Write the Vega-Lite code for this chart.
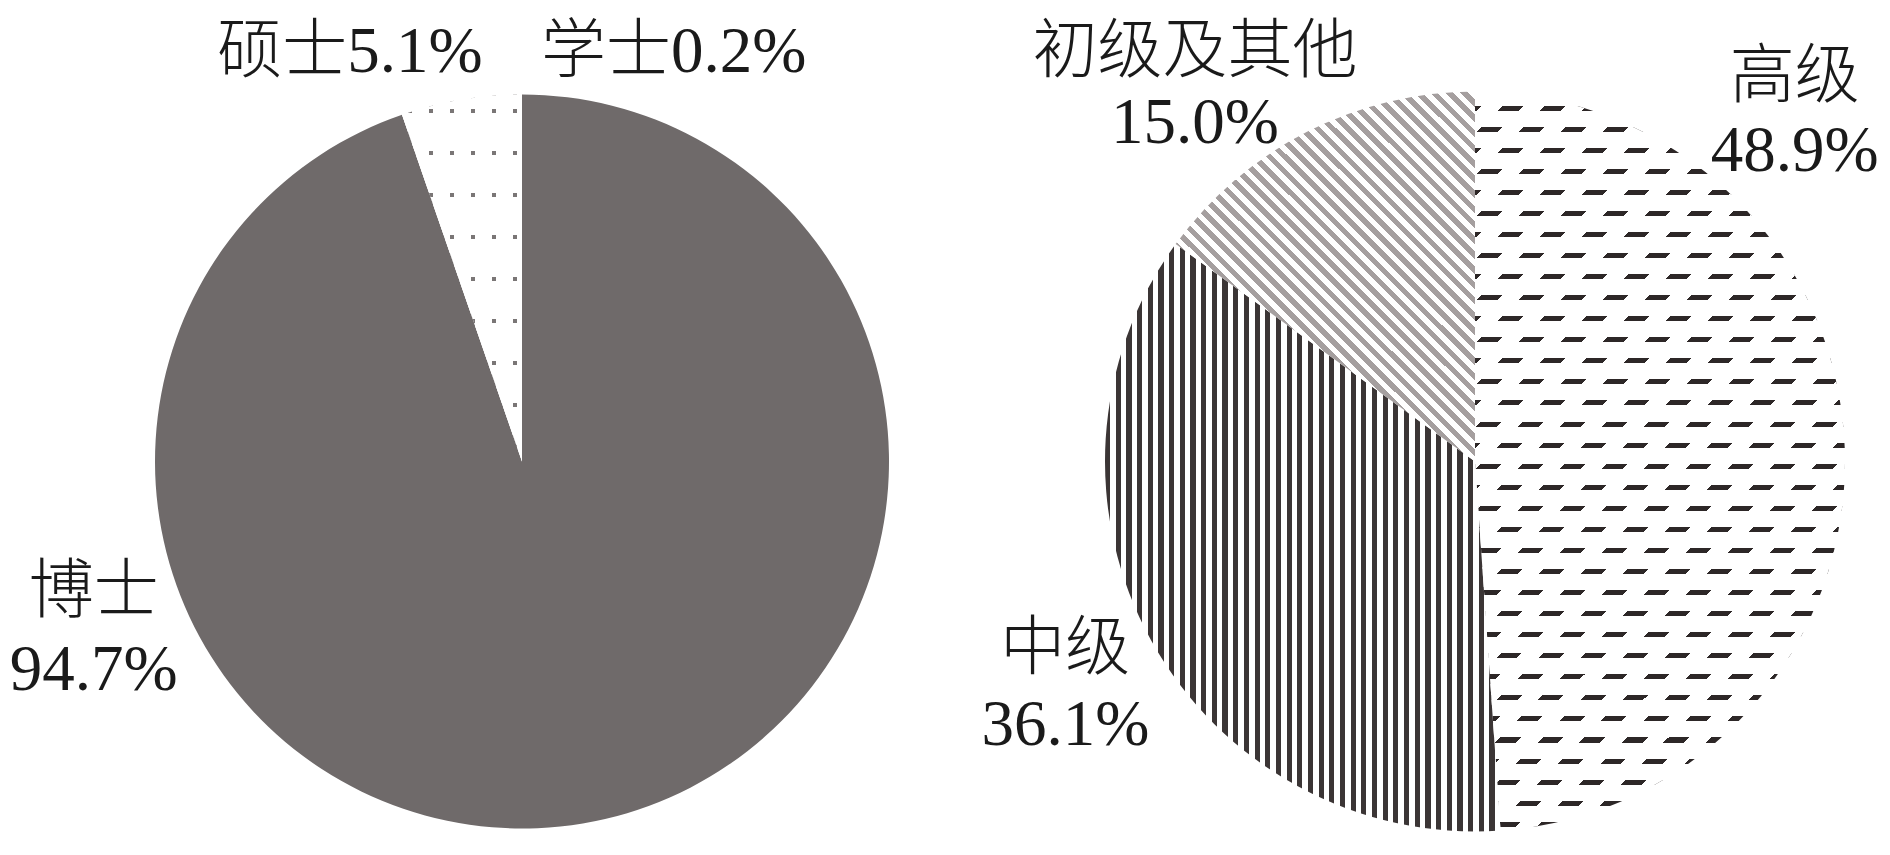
{
"$schema": "https://vega.github.io/schema/vega-lite/v6.json",
"autosize": {"type": "pad"},
"padding": {"left": 0, "right": 0, "top": 19.5, "bottom": 0},
"background": "white",
"bounds": "flush",
"spacing": 16,
"config": {
  "view": {"stroke": null},
  "text": {"font": "Liberation Serif, Noto Sans CJK SC", "fontSize": 65, "fontWeight": 300, "color": "#1a1a1a", "align": "center", "baseline": "middle", "lineBreak": "\n"}
},
"datasets": {
  "degree": [
    {"category": "博士", "share": 94.7, "seq": 1, "label": "博士\n94.7%"},
    {"category": "硕士", "share": 5.1, "seq": 2, "label": "硕士5.1%"},
    {"category": "学士", "share": 0.2, "seq": 3, "label": "学士0.2%"}
  ],
  "title": [
    {"category": "高级", "share": 48.9, "seq": 1, "label": "高级\n48.9%"},
    {"category": "中级", "share": 36.1, "seq": 2, "label": "中级\n36.1%"},
    {"category": "初级及其他", "share": 15.0, "seq": 3, "label": "初级及其他\n15.0%"}
  ]
},
"hconcat": [
  {
    "width": 1044, "height": 786,
    "data": {"name": "degree"},
    "encoding": {
      "theta": {"field": "share", "type": "quantitative", "stack": true},
      "order": {"field": "seq", "type": "quantitative"},
      "detail": {"field": "category", "type": "nominal"}
    },
    "layer": [
      {"mark": {"type": "arc", "outerRadius": 367},
       "encoding": {"color": {"condition": [
         {"test": "datum.category === '博士'", "value": "#6f6a6a"},
         {"test": "datum.category === '硕士'", "value": {"gradient": "linear", "x1": 0, "y1": 0, "x2": 1, "y2": 0, "stops": [
{"offset":0.05,"color":"#fff"},{"offset":0.05,"color":"#7a7676"},{"offset":0.083,"color":"#7a7676"},{"offset":0.083,"color":"#fff"},
{"offset":0.225,"color":"#fff"},{"offset":0.225,"color":"#7a7676"},{"offset":0.258,"color":"#7a7676"},{"offset":0.258,"color":"#fff"},
{"offset":0.4,"color":"#fff"},{"offset":0.4,"color":"#7a7676"},{"offset":0.433,"color":"#7a7676"},{"offset":0.433,"color":"#fff"},
{"offset":0.575,"color":"#fff"},{"offset":0.575,"color":"#7a7676"},{"offset":0.608,"color":"#7a7676"},{"offset":0.608,"color":"#fff"},
{"offset":0.75,"color":"#fff"},{"offset":0.75,"color":"#7a7676"},{"offset":0.783,"color":"#7a7676"},{"offset":0.783,"color":"#fff"},
{"offset":0.925,"color":"#fff"},{"offset":0.925,"color":"#7a7676"},{"offset":0.958,"color":"#7a7676"},{"offset":0.958,"color":"#fff"}
         ]}}
       ], "value": "#ffffff"}}},
      {"mark": {"type": "arc", "outerRadius": 367},
       "encoding": {"color": {"condition": {"test": "datum.category === '硕士'", "value": {"gradient": "linear", "x1": 0, "y1": 0, "x2": 0, "y2": 1, "stops": [
{"offset":0.04,"color":"#fff"},{"offset":0.04,"color":"rgba(255,255,255,0)"},{"offset":0.0509,"color":"rgba(255,255,255,0)"},{"offset":0.0509,"color":"#fff"},
{"offset":0.1544,"color":"#fff"},{"offset":0.1544,"color":"rgba(255,255,255,0)"},{"offset":0.1653,"color":"rgba(255,255,255,0)"},{"offset":0.1653,"color":"#fff"},
{"offset":0.2688,"color":"#fff"},{"offset":0.2688,"color":"rgba(255,255,255,0)"},{"offset":0.2797,"color":"rgba(255,255,255,0)"},{"offset":0.2797,"color":"#fff"},
{"offset":0.3832,"color":"#fff"},{"offset":0.3832,"color":"rgba(255,255,255,0)"},{"offset":0.3941,"color":"rgba(255,255,255,0)"},{"offset":0.3941,"color":"#fff"},
{"offset":0.4976,"color":"#fff"},{"offset":0.4976,"color":"rgba(255,255,255,0)"},{"offset":0.5085,"color":"rgba(255,255,255,0)"},{"offset":0.5085,"color":"#fff"},
{"offset":0.612,"color":"#fff"},{"offset":0.612,"color":"rgba(255,255,255,0)"},{"offset":0.6229,"color":"rgba(255,255,255,0)"},{"offset":0.6229,"color":"#fff"},
{"offset":0.7264,"color":"#fff"},{"offset":0.7264,"color":"rgba(255,255,255,0)"},{"offset":0.7373,"color":"rgba(255,255,255,0)"},{"offset":0.7373,"color":"#fff"},
{"offset":0.8408,"color":"#fff"},{"offset":0.8408,"color":"rgba(255,255,255,0)"},{"offset":0.8517,"color":"rgba(255,255,255,0)"},{"offset":0.8517,"color":"#fff"},
{"offset":0.9552,"color":"#fff"},{"offset":0.9552,"color":"rgba(255,255,255,0)"},{"offset":0.9661,"color":"rgba(255,255,255,0)"},{"offset":0.9661,"color":"#fff"}
       ]}}, "value": "transparent"}}},
      {"mark": {"type": "text", "dx": -489, "dy": -231, "lineHeight": 78},
       "encoding": {"radius": {"value": {"expr": "datum.category === '博士' ? 367 : 0"}},
                    "text": {"condition": {"test": "datum.category === '博士'", "field": "label"}, "value": ""}}},
      {"mark": {"type": "text", "dx": -109, "dy": -48},
       "encoding": {"radius": {"value": {"expr": "datum.category === '硕士' ? 367 : 0"}},
                    "text": {"condition": {"test": "datum.category === '硕士'", "field": "label"}, "value": ""}}},
      {"mark": {"type": "text", "dx": 154, "dy": -43},
       "encoding": {"radius": {"value": {"expr": "datum.category === '学士' ? 367 : 0"}},
                    "text": {"condition": {"test": "datum.category === '学士'", "field": "label"}, "value": ""}}}
    ]
  },
  {
    "width": 830, "height": 786,
    "data": {"name": "title"},
    "encoding": {
      "theta": {"field": "share", "type": "quantitative", "stack": true},
      "order": {"field": "seq", "type": "quantitative"},
      "detail": {"field": "category", "type": "nominal"}
    },
    "layer": [
      {"mark": {"type": "arc", "outerRadius": 370},
       "encoding": {"color": {"condition": [
         {"test": "datum.category === '高级'", "value": {"gradient": "linear", "x1": 0, "y1": 0, "x2": 0, "y2": 1, "stops": [
{"offset":0.019,"color":"#fff"},{"offset":0.019,"color":"#2d2727"},{"offset":0.0258,"color":"#2d2727"},{"offset":0.0258,"color":"#fff"},
{"offset":0.0475,"color":"#fff"},{"offset":0.0475,"color":"#2d2727"},{"offset":0.0543,"color":"#2d2727"},{"offset":0.0543,"color":"#fff"},
{"offset":0.076,"color":"#fff"},{"offset":0.076,"color":"#2d2727"},{"offset":0.0828,"color":"#2d2727"},{"offset":0.0828,"color":"#fff"},
{"offset":0.1045,"color":"#fff"},{"offset":0.1045,"color":"#2d2727"},{"offset":0.1113,"color":"#2d2727"},{"offset":0.1113,"color":"#fff"},
{"offset":0.133,"color":"#fff"},{"offset":0.133,"color":"#2d2727"},{"offset":0.1398,"color":"#2d2727"},{"offset":0.1398,"color":"#fff"},
{"offset":0.1615,"color":"#fff"},{"offset":0.1615,"color":"#2d2727"},{"offset":0.1683,"color":"#2d2727"},{"offset":0.1683,"color":"#fff"},
{"offset":0.19,"color":"#fff"},{"offset":0.19,"color":"#2d2727"},{"offset":0.1968,"color":"#2d2727"},{"offset":0.1968,"color":"#fff"},
{"offset":0.2185,"color":"#fff"},{"offset":0.2185,"color":"#2d2727"},{"offset":0.2253,"color":"#2d2727"},{"offset":0.2253,"color":"#fff"},
{"offset":0.247,"color":"#fff"},{"offset":0.247,"color":"#2d2727"},{"offset":0.2538,"color":"#2d2727"},{"offset":0.2538,"color":"#fff"},
{"offset":0.2755,"color":"#fff"},{"offset":0.2755,"color":"#2d2727"},{"offset":0.2823,"color":"#2d2727"},{"offset":0.2823,"color":"#fff"},
{"offset":0.304,"color":"#fff"},{"offset":0.304,"color":"#2d2727"},{"offset":0.3108,"color":"#2d2727"},{"offset":0.3108,"color":"#fff"},
{"offset":0.3325,"color":"#fff"},{"offset":0.3325,"color":"#2d2727"},{"offset":0.3393,"color":"#2d2727"},{"offset":0.3393,"color":"#fff"},
{"offset":0.361,"color":"#fff"},{"offset":0.361,"color":"#2d2727"},{"offset":0.3678,"color":"#2d2727"},{"offset":0.3678,"color":"#fff"},
{"offset":0.3895,"color":"#fff"},{"offset":0.3895,"color":"#2d2727"},{"offset":0.3963,"color":"#2d2727"},{"offset":0.3963,"color":"#fff"},
{"offset":0.418,"color":"#fff"},{"offset":0.418,"color":"#2d2727"},{"offset":0.4248,"color":"#2d2727"},{"offset":0.4248,"color":"#fff"},
{"offset":0.4465,"color":"#fff"},{"offset":0.4465,"color":"#2d2727"},{"offset":0.4533,"color":"#2d2727"},{"offset":0.4533,"color":"#fff"},
{"offset":0.475,"color":"#fff"},{"offset":0.475,"color":"#2d2727"},{"offset":0.4818,"color":"#2d2727"},{"offset":0.4818,"color":"#fff"},
{"offset":0.5035,"color":"#fff"},{"offset":0.5035,"color":"#2d2727"},{"offset":0.5103,"color":"#2d2727"},{"offset":0.5103,"color":"#fff"},
{"offset":0.532,"color":"#fff"},{"offset":0.532,"color":"#2d2727"},{"offset":0.5388,"color":"#2d2727"},{"offset":0.5388,"color":"#fff"},
{"offset":0.5605,"color":"#fff"},{"offset":0.5605,"color":"#2d2727"},{"offset":0.5673,"color":"#2d2727"},{"offset":0.5673,"color":"#fff"},
{"offset":0.589,"color":"#fff"},{"offset":0.589,"color":"#2d2727"},{"offset":0.5958,"color":"#2d2727"},{"offset":0.5958,"color":"#fff"},
{"offset":0.6175,"color":"#fff"},{"offset":0.6175,"color":"#2d2727"},{"offset":0.6243,"color":"#2d2727"},{"offset":0.6243,"color":"#fff"},
{"offset":0.646,"color":"#fff"},{"offset":0.646,"color":"#2d2727"},{"offset":0.6528,"color":"#2d2727"},{"offset":0.6528,"color":"#fff"},
{"offset":0.6745,"color":"#fff"},{"offset":0.6745,"color":"#2d2727"},{"offset":0.6813,"color":"#2d2727"},{"offset":0.6813,"color":"#fff"},
{"offset":0.703,"color":"#fff"},{"offset":0.703,"color":"#2d2727"},{"offset":0.7098,"color":"#2d2727"},{"offset":0.7098,"color":"#fff"},
{"offset":0.7315,"color":"#fff"},{"offset":0.7315,"color":"#2d2727"},{"offset":0.7383,"color":"#2d2727"},{"offset":0.7383,"color":"#fff"},
{"offset":0.76,"color":"#fff"},{"offset":0.76,"color":"#2d2727"},{"offset":0.7668,"color":"#2d2727"},{"offset":0.7668,"color":"#fff"},
{"offset":0.7885,"color":"#fff"},{"offset":0.7885,"color":"#2d2727"},{"offset":0.7953,"color":"#2d2727"},{"offset":0.7953,"color":"#fff"},
{"offset":0.817,"color":"#fff"},{"offset":0.817,"color":"#2d2727"},{"offset":0.8238,"color":"#2d2727"},{"offset":0.8238,"color":"#fff"},
{"offset":0.8455,"color":"#fff"},{"offset":0.8455,"color":"#2d2727"},{"offset":0.8523,"color":"#2d2727"},{"offset":0.8523,"color":"#fff"},
{"offset":0.874,"color":"#fff"},{"offset":0.874,"color":"#2d2727"},{"offset":0.8808,"color":"#2d2727"},{"offset":0.8808,"color":"#fff"},
{"offset":0.9025,"color":"#fff"},{"offset":0.9025,"color":"#2d2727"},{"offset":0.9093,"color":"#2d2727"},{"offset":0.9093,"color":"#fff"},
{"offset":0.931,"color":"#fff"},{"offset":0.931,"color":"#2d2727"},{"offset":0.9378,"color":"#2d2727"},{"offset":0.9378,"color":"#fff"},
{"offset":0.9595,"color":"#fff"},{"offset":0.9595,"color":"#2d2727"},{"offset":0.9663,"color":"#2d2727"},{"offset":0.9663,"color":"#fff"},
{"offset":0.988,"color":"#fff"},{"offset":0.988,"color":"#2d2727"},{"offset":0.9948,"color":"#2d2727"},{"offset":0.9948,"color":"#fff"}
         ]}},
         {"test": "datum.category === '中级'", "value": {"gradient": "linear", "x1": 0, "y1": 0, "x2": 1, "y2": 0, "stops": [
{"offset":0,"color":"#3b3535"},{"offset":0.013,"color":"#3b3535"},{"offset":0.013,"color":"#fff"},{"offset":0.027,"color":"#fff"},
{"offset":0.027,"color":"#3b3535"},{"offset":0.04,"color":"#3b3535"},{"offset":0.04,"color":"#fff"},{"offset":0.054,"color":"#fff"},
{"offset":0.054,"color":"#3b3535"},{"offset":0.067,"color":"#3b3535"},{"offset":0.067,"color":"#fff"},{"offset":0.081,"color":"#fff"},
{"offset":0.081,"color":"#3b3535"},{"offset":0.094,"color":"#3b3535"},{"offset":0.094,"color":"#fff"},{"offset":0.108,"color":"#fff"},
{"offset":0.108,"color":"#3b3535"},{"offset":0.121,"color":"#3b3535"},{"offset":0.121,"color":"#fff"},{"offset":0.135,"color":"#fff"},
{"offset":0.135,"color":"#3b3535"},{"offset":0.148,"color":"#3b3535"},{"offset":0.148,"color":"#fff"},{"offset":0.162,"color":"#fff"},
{"offset":0.162,"color":"#3b3535"},{"offset":0.175,"color":"#3b3535"},{"offset":0.175,"color":"#fff"},{"offset":0.189,"color":"#fff"},
{"offset":0.189,"color":"#3b3535"},{"offset":0.202,"color":"#3b3535"},{"offset":0.202,"color":"#fff"},{"offset":0.216,"color":"#fff"},
{"offset":0.216,"color":"#3b3535"},{"offset":0.229,"color":"#3b3535"},{"offset":0.229,"color":"#fff"},{"offset":0.243,"color":"#fff"},
{"offset":0.243,"color":"#3b3535"},{"offset":0.256,"color":"#3b3535"},{"offset":0.256,"color":"#fff"},{"offset":0.27,"color":"#fff"},
{"offset":0.27,"color":"#3b3535"},{"offset":0.283,"color":"#3b3535"},{"offset":0.283,"color":"#fff"},{"offset":0.297,"color":"#fff"},
{"offset":0.297,"color":"#3b3535"},{"offset":0.31,"color":"#3b3535"},{"offset":0.31,"color":"#fff"},{"offset":0.324,"color":"#fff"},
{"offset":0.324,"color":"#3b3535"},{"offset":0.337,"color":"#3b3535"},{"offset":0.337,"color":"#fff"},{"offset":0.351,"color":"#fff"},
{"offset":0.351,"color":"#3b3535"},{"offset":0.364,"color":"#3b3535"},{"offset":0.364,"color":"#fff"},{"offset":0.378,"color":"#fff"},
{"offset":0.378,"color":"#3b3535"},{"offset":0.391,"color":"#3b3535"},{"offset":0.391,"color":"#fff"},{"offset":0.405,"color":"#fff"},
{"offset":0.405,"color":"#3b3535"},{"offset":0.418,"color":"#3b3535"},{"offset":0.418,"color":"#fff"},{"offset":0.432,"color":"#fff"},
{"offset":0.432,"color":"#3b3535"},{"offset":0.445,"color":"#3b3535"},{"offset":0.445,"color":"#fff"},{"offset":0.459,"color":"#fff"},
{"offset":0.459,"color":"#3b3535"},{"offset":0.472,"color":"#3b3535"},{"offset":0.472,"color":"#fff"},{"offset":0.486,"color":"#fff"},
{"offset":0.486,"color":"#3b3535"},{"offset":0.499,"color":"#3b3535"},{"offset":0.499,"color":"#fff"},{"offset":0.513,"color":"#fff"},
{"offset":0.513,"color":"#3b3535"},{"offset":0.526,"color":"#3b3535"},{"offset":0.526,"color":"#fff"},{"offset":0.54,"color":"#fff"},
{"offset":0.54,"color":"#3b3535"},{"offset":0.553,"color":"#3b3535"},{"offset":0.553,"color":"#fff"},{"offset":0.567,"color":"#fff"},
{"offset":0.567,"color":"#3b3535"},{"offset":0.58,"color":"#3b3535"},{"offset":0.58,"color":"#fff"},{"offset":0.594,"color":"#fff"},
{"offset":0.594,"color":"#3b3535"},{"offset":0.607,"color":"#3b3535"},{"offset":0.607,"color":"#fff"},{"offset":0.621,"color":"#fff"},
{"offset":0.621,"color":"#3b3535"},{"offset":0.634,"color":"#3b3535"},{"offset":0.634,"color":"#fff"},{"offset":0.648,"color":"#fff"},
{"offset":0.648,"color":"#3b3535"},{"offset":0.661,"color":"#3b3535"},{"offset":0.661,"color":"#fff"},{"offset":0.675,"color":"#fff"},
{"offset":0.675,"color":"#3b3535"},{"offset":0.688,"color":"#3b3535"},{"offset":0.688,"color":"#fff"},{"offset":0.702,"color":"#fff"},
{"offset":0.702,"color":"#3b3535"},{"offset":0.715,"color":"#3b3535"},{"offset":0.715,"color":"#fff"},{"offset":0.729,"color":"#fff"},
{"offset":0.729,"color":"#3b3535"},{"offset":0.742,"color":"#3b3535"},{"offset":0.742,"color":"#fff"},{"offset":0.756,"color":"#fff"},
{"offset":0.756,"color":"#3b3535"},{"offset":0.769,"color":"#3b3535"},{"offset":0.769,"color":"#fff"},{"offset":0.783,"color":"#fff"},
{"offset":0.783,"color":"#3b3535"},{"offset":0.796,"color":"#3b3535"},{"offset":0.796,"color":"#fff"},{"offset":0.81,"color":"#fff"},
{"offset":0.81,"color":"#3b3535"},{"offset":0.823,"color":"#3b3535"},{"offset":0.823,"color":"#fff"},{"offset":0.837,"color":"#fff"},
{"offset":0.837,"color":"#3b3535"},{"offset":0.85,"color":"#3b3535"},{"offset":0.85,"color":"#fff"},{"offset":0.864,"color":"#fff"},
{"offset":0.864,"color":"#3b3535"},{"offset":0.877,"color":"#3b3535"},{"offset":0.877,"color":"#fff"},{"offset":0.891,"color":"#fff"},
{"offset":0.891,"color":"#3b3535"},{"offset":0.904,"color":"#3b3535"},{"offset":0.904,"color":"#fff"},{"offset":0.918,"color":"#fff"},
{"offset":0.918,"color":"#3b3535"},{"offset":0.931,"color":"#3b3535"},{"offset":0.931,"color":"#fff"},{"offset":0.945,"color":"#fff"},
{"offset":0.945,"color":"#3b3535"},{"offset":0.958,"color":"#3b3535"},{"offset":0.958,"color":"#fff"},{"offset":0.972,"color":"#fff"},
{"offset":0.972,"color":"#3b3535"},{"offset":0.985,"color":"#3b3535"},{"offset":0.985,"color":"#fff"},{"offset":1,"color":"#fff"}
         ]}}
       ],
       "value": {"gradient": "linear", "x1": 0, "y1": 1, "x2": 0.884, "y2": -0.094, "stops": [
{"offset":0,"color":"#a59f9f"},{"offset":0.0114,"color":"#a59f9f"},{"offset":0.0114,"color":"#fff"},{"offset":0.0227,"color":"#fff"},
{"offset":0.0227,"color":"#a59f9f"},{"offset":0.0341,"color":"#a59f9f"},{"offset":0.0341,"color":"#fff"},{"offset":0.0454,"color":"#fff"},
{"offset":0.0454,"color":"#a59f9f"},{"offset":0.0568,"color":"#a59f9f"},{"offset":0.0568,"color":"#fff"},{"offset":0.0681,"color":"#fff"},
{"offset":0.0681,"color":"#a59f9f"},{"offset":0.0795,"color":"#a59f9f"},{"offset":0.0795,"color":"#fff"},{"offset":0.0908,"color":"#fff"},
{"offset":0.0908,"color":"#a59f9f"},{"offset":0.1022,"color":"#a59f9f"},{"offset":0.1022,"color":"#fff"},{"offset":0.1135,"color":"#fff"},
{"offset":0.1135,"color":"#a59f9f"},{"offset":0.1249,"color":"#a59f9f"},{"offset":0.1249,"color":"#fff"},{"offset":0.1362,"color":"#fff"},
{"offset":0.1362,"color":"#a59f9f"},{"offset":0.1476,"color":"#a59f9f"},{"offset":0.1476,"color":"#fff"},{"offset":0.1589,"color":"#fff"},
{"offset":0.1589,"color":"#a59f9f"},{"offset":0.1703,"color":"#a59f9f"},{"offset":0.1703,"color":"#fff"},{"offset":0.1816,"color":"#fff"},
{"offset":0.1816,"color":"#a59f9f"},{"offset":0.193,"color":"#a59f9f"},{"offset":0.193,"color":"#fff"},{"offset":0.2043,"color":"#fff"},
{"offset":0.2043,"color":"#a59f9f"},{"offset":0.2157,"color":"#a59f9f"},{"offset":0.2157,"color":"#fff"},{"offset":0.227,"color":"#fff"},
{"offset":0.227,"color":"#a59f9f"},{"offset":0.2384,"color":"#a59f9f"},{"offset":0.2384,"color":"#fff"},{"offset":0.2497,"color":"#fff"},
{"offset":0.2497,"color":"#a59f9f"},{"offset":0.2611,"color":"#a59f9f"},{"offset":0.2611,"color":"#fff"},{"offset":0.2724,"color":"#fff"},
{"offset":0.2724,"color":"#a59f9f"},{"offset":0.2838,"color":"#a59f9f"},{"offset":0.2838,"color":"#fff"},{"offset":0.2951,"color":"#fff"},
{"offset":0.2951,"color":"#a59f9f"},{"offset":0.3065,"color":"#a59f9f"},{"offset":0.3065,"color":"#fff"},{"offset":0.3178,"color":"#fff"},
{"offset":0.3178,"color":"#a59f9f"},{"offset":0.3292,"color":"#a59f9f"},{"offset":0.3292,"color":"#fff"},{"offset":0.3405,"color":"#fff"},
{"offset":0.3405,"color":"#a59f9f"},{"offset":0.3519,"color":"#a59f9f"},{"offset":0.3519,"color":"#fff"},{"offset":0.3632,"color":"#fff"},
{"offset":0.3632,"color":"#a59f9f"},{"offset":0.3746,"color":"#a59f9f"},{"offset":0.3746,"color":"#fff"},{"offset":0.3859,"color":"#fff"},
{"offset":0.3859,"color":"#a59f9f"},{"offset":0.3973,"color":"#a59f9f"},{"offset":0.3973,"color":"#fff"},{"offset":0.4086,"color":"#fff"},
{"offset":0.4086,"color":"#a59f9f"},{"offset":0.42,"color":"#a59f9f"},{"offset":0.42,"color":"#fff"},{"offset":0.4313,"color":"#fff"},
{"offset":0.4313,"color":"#a59f9f"},{"offset":0.4427,"color":"#a59f9f"},{"offset":0.4427,"color":"#fff"},{"offset":0.454,"color":"#fff"},
{"offset":0.454,"color":"#a59f9f"},{"offset":0.4654,"color":"#a59f9f"},{"offset":0.4654,"color":"#fff"},{"offset":0.4767,"color":"#fff"},
{"offset":0.4767,"color":"#a59f9f"},{"offset":0.4881,"color":"#a59f9f"},{"offset":0.4881,"color":"#fff"},{"offset":0.4994,"color":"#fff"},
{"offset":0.4994,"color":"#a59f9f"},{"offset":0.5108,"color":"#a59f9f"},{"offset":0.5108,"color":"#fff"},{"offset":0.5221,"color":"#fff"},
{"offset":0.5221,"color":"#a59f9f"},{"offset":0.5335,"color":"#a59f9f"},{"offset":0.5335,"color":"#fff"},{"offset":0.5448,"color":"#fff"},
{"offset":0.5448,"color":"#a59f9f"},{"offset":0.5562,"color":"#a59f9f"},{"offset":0.5562,"color":"#fff"},{"offset":0.5675,"color":"#fff"},
{"offset":0.5675,"color":"#a59f9f"},{"offset":0.5789,"color":"#a59f9f"},{"offset":0.5789,"color":"#fff"},{"offset":0.5902,"color":"#fff"},
{"offset":0.5902,"color":"#a59f9f"},{"offset":0.6016,"color":"#a59f9f"},{"offset":0.6016,"color":"#fff"},{"offset":0.6129,"color":"#fff"},
{"offset":0.6129,"color":"#a59f9f"},{"offset":0.6243,"color":"#a59f9f"},{"offset":0.6243,"color":"#fff"},{"offset":0.6356,"color":"#fff"},
{"offset":0.6356,"color":"#a59f9f"},{"offset":0.647,"color":"#a59f9f"},{"offset":0.647,"color":"#fff"},{"offset":0.6583,"color":"#fff"},
{"offset":0.6583,"color":"#a59f9f"},{"offset":0.6697,"color":"#a59f9f"},{"offset":0.6697,"color":"#fff"},{"offset":0.681,"color":"#fff"},
{"offset":0.681,"color":"#a59f9f"},{"offset":0.6924,"color":"#a59f9f"},{"offset":0.6924,"color":"#fff"},{"offset":0.7037,"color":"#fff"},
{"offset":0.7037,"color":"#a59f9f"},{"offset":0.7151,"color":"#a59f9f"},{"offset":0.7151,"color":"#fff"},{"offset":0.7264,"color":"#fff"},
{"offset":0.7264,"color":"#a59f9f"},{"offset":0.7378,"color":"#a59f9f"},{"offset":0.7378,"color":"#fff"},{"offset":0.7491,"color":"#fff"},
{"offset":0.7491,"color":"#a59f9f"},{"offset":0.7605,"color":"#a59f9f"},{"offset":0.7605,"color":"#fff"},{"offset":0.7718,"color":"#fff"},
{"offset":0.7718,"color":"#a59f9f"},{"offset":0.7832,"color":"#a59f9f"},{"offset":0.7832,"color":"#fff"},{"offset":0.7945,"color":"#fff"},
{"offset":0.7945,"color":"#a59f9f"},{"offset":0.8059,"color":"#a59f9f"},{"offset":0.8059,"color":"#fff"},{"offset":0.8172,"color":"#fff"},
{"offset":0.8172,"color":"#a59f9f"},{"offset":0.8286,"color":"#a59f9f"},{"offset":0.8286,"color":"#fff"},{"offset":0.8399,"color":"#fff"},
{"offset":0.8399,"color":"#a59f9f"},{"offset":0.8513,"color":"#a59f9f"},{"offset":0.8513,"color":"#fff"},{"offset":0.8626,"color":"#fff"},
{"offset":0.8626,"color":"#a59f9f"},{"offset":0.874,"color":"#a59f9f"},{"offset":0.874,"color":"#fff"},{"offset":0.8853,"color":"#fff"},
{"offset":0.8853,"color":"#a59f9f"},{"offset":0.8967,"color":"#a59f9f"},{"offset":0.8967,"color":"#fff"},{"offset":0.908,"color":"#fff"},
{"offset":0.908,"color":"#a59f9f"},{"offset":0.9194,"color":"#a59f9f"},{"offset":0.9194,"color":"#fff"},{"offset":0.9307,"color":"#fff"},
{"offset":0.9307,"color":"#a59f9f"},{"offset":0.9421,"color":"#a59f9f"},{"offset":0.9421,"color":"#fff"},{"offset":0.9534,"color":"#fff"},
{"offset":0.9534,"color":"#a59f9f"},{"offset":0.9648,"color":"#a59f9f"},{"offset":0.9648,"color":"#fff"},{"offset":0.9761,"color":"#fff"},
{"offset":0.9761,"color":"#a59f9f"},{"offset":0.9875,"color":"#a59f9f"},{"offset":0.9875,"color":"#fff"},{"offset":1,"color":"#fff"}
       ]}}}},
      {"mark": {"type": "arc", "outerRadius": 370},
       "encoding": {"color": {"condition": {"test": "datum.category === '高级'", "value": {"gradient": "linear", "x1": 0, "y1": 0, "x2": 0.6, "y2": 1.2, "stops": [
{"offset":0,"color":"rgba(255,255,255,0)"},{"offset":0.0189,"color":"rgba(255,255,255,0)"},{"offset":0.0189,"color":"#fff"},{"offset":0.0379,"color":"#fff"},
{"offset":0.0379,"color":"rgba(255,255,255,0)"},{"offset":0.0568,"color":"rgba(255,255,255,0)"},{"offset":0.0568,"color":"#fff"},{"offset":0.0757,"color":"#fff"},
{"offset":0.0757,"color":"rgba(255,255,255,0)"},{"offset":0.0946,"color":"rgba(255,255,255,0)"},{"offset":0.0946,"color":"#fff"},{"offset":0.1136,"color":"#fff"},
{"offset":0.1136,"color":"rgba(255,255,255,0)"},{"offset":0.1325,"color":"rgba(255,255,255,0)"},{"offset":0.1325,"color":"#fff"},{"offset":0.1514,"color":"#fff"},
{"offset":0.1514,"color":"rgba(255,255,255,0)"},{"offset":0.1703,"color":"rgba(255,255,255,0)"},{"offset":0.1703,"color":"#fff"},{"offset":0.1893,"color":"#fff"},
{"offset":0.1893,"color":"rgba(255,255,255,0)"},{"offset":0.2082,"color":"rgba(255,255,255,0)"},{"offset":0.2082,"color":"#fff"},{"offset":0.2271,"color":"#fff"},
{"offset":0.2271,"color":"rgba(255,255,255,0)"},{"offset":0.246,"color":"rgba(255,255,255,0)"},{"offset":0.246,"color":"#fff"},{"offset":0.265,"color":"#fff"},
{"offset":0.265,"color":"rgba(255,255,255,0)"},{"offset":0.2839,"color":"rgba(255,255,255,0)"},{"offset":0.2839,"color":"#fff"},{"offset":0.3028,"color":"#fff"},
{"offset":0.3028,"color":"rgba(255,255,255,0)"},{"offset":0.3217,"color":"rgba(255,255,255,0)"},{"offset":0.3217,"color":"#fff"},{"offset":0.3407,"color":"#fff"},
{"offset":0.3407,"color":"rgba(255,255,255,0)"},{"offset":0.3596,"color":"rgba(255,255,255,0)"},{"offset":0.3596,"color":"#fff"},{"offset":0.3785,"color":"#fff"},
{"offset":0.3785,"color":"rgba(255,255,255,0)"},{"offset":0.3974,"color":"rgba(255,255,255,0)"},{"offset":0.3974,"color":"#fff"},{"offset":0.4164,"color":"#fff"},
{"offset":0.4164,"color":"rgba(255,255,255,0)"},{"offset":0.4353,"color":"rgba(255,255,255,0)"},{"offset":0.4353,"color":"#fff"},{"offset":0.4542,"color":"#fff"},
{"offset":0.4542,"color":"rgba(255,255,255,0)"},{"offset":0.4731,"color":"rgba(255,255,255,0)"},{"offset":0.4731,"color":"#fff"},{"offset":0.4921,"color":"#fff"},
{"offset":0.4921,"color":"rgba(255,255,255,0)"},{"offset":0.511,"color":"rgba(255,255,255,0)"},{"offset":0.511,"color":"#fff"},{"offset":0.5299,"color":"#fff"},
{"offset":0.5299,"color":"rgba(255,255,255,0)"},{"offset":0.5488,"color":"rgba(255,255,255,0)"},{"offset":0.5488,"color":"#fff"},{"offset":0.5678,"color":"#fff"},
{"offset":0.5678,"color":"rgba(255,255,255,0)"},{"offset":0.5867,"color":"rgba(255,255,255,0)"},{"offset":0.5867,"color":"#fff"},{"offset":0.6056,"color":"#fff"},
{"offset":0.6056,"color":"rgba(255,255,255,0)"},{"offset":0.6245,"color":"rgba(255,255,255,0)"},{"offset":0.6245,"color":"#fff"},{"offset":0.6435,"color":"#fff"},
{"offset":0.6435,"color":"rgba(255,255,255,0)"},{"offset":0.6624,"color":"rgba(255,255,255,0)"},{"offset":0.6624,"color":"#fff"},{"offset":0.6813,"color":"#fff"},
{"offset":0.6813,"color":"rgba(255,255,255,0)"},{"offset":0.7002,"color":"rgba(255,255,255,0)"},{"offset":0.7002,"color":"#fff"},{"offset":0.7192,"color":"#fff"},
{"offset":0.7192,"color":"rgba(255,255,255,0)"},{"offset":0.7381,"color":"rgba(255,255,255,0)"},{"offset":0.7381,"color":"#fff"},{"offset":0.757,"color":"#fff"},
{"offset":0.757,"color":"rgba(255,255,255,0)"},{"offset":0.7759,"color":"rgba(255,255,255,0)"},{"offset":0.7759,"color":"#fff"},{"offset":0.7949,"color":"#fff"},
{"offset":0.7949,"color":"rgba(255,255,255,0)"},{"offset":0.8138,"color":"rgba(255,255,255,0)"},{"offset":0.8138,"color":"#fff"},{"offset":0.8327,"color":"#fff"},
{"offset":0.8327,"color":"rgba(255,255,255,0)"},{"offset":0.8516,"color":"rgba(255,255,255,0)"},{"offset":0.8516,"color":"#fff"},{"offset":0.8706,"color":"#fff"},
{"offset":0.8706,"color":"rgba(255,255,255,0)"},{"offset":0.8895,"color":"rgba(255,255,255,0)"},{"offset":0.8895,"color":"#fff"},{"offset":0.9084,"color":"#fff"},
{"offset":0.9084,"color":"rgba(255,255,255,0)"},{"offset":0.9273,"color":"rgba(255,255,255,0)"},{"offset":0.9273,"color":"#fff"},{"offset":0.9463,"color":"#fff"},
{"offset":0.9463,"color":"rgba(255,255,255,0)"},{"offset":0.9652,"color":"rgba(255,255,255,0)"},{"offset":0.9652,"color":"#fff"},{"offset":0.9841,"color":"#fff"},
{"offset":0.9841,"color":"rgba(255,255,255,0)"},{"offset":1,"color":"rgba(255,255,255,0)"}
       ]}}, "value": "transparent"}}},
      {"mark": {"type": "text", "dx": -50, "dy": -372, "lineHeight": 74},
       "encoding": {"radius": {"value": {"expr": "datum.category === '高级' ? 370 : 0"}},
                    "text": {"condition": {"test": "datum.category === '高级'", "field": "label"}, "value": ""}}},
      {"mark": {"type": "text", "dx": -86, "dy": 8, "lineHeight": 76},
       "encoding": {"radius": {"value": {"expr": "datum.category === '中级' ? 370 : 0"}},
                    "text": {"condition": {"test": "datum.category === '中级'", "field": "label"}, "value": ""}}},
      {"mark": {"type": "text", "dx": -112, "dy": -80, "lineHeight": 71},
       "encoding": {"radius": {"value": {"expr": "datum.category === '初级及其他' ? 370 : 0"}},
                    "text": {"condition": {"test": "datum.category === '初级及其他'", "field": "label"}, "value": ""}}}
    ]
  }
]
}
